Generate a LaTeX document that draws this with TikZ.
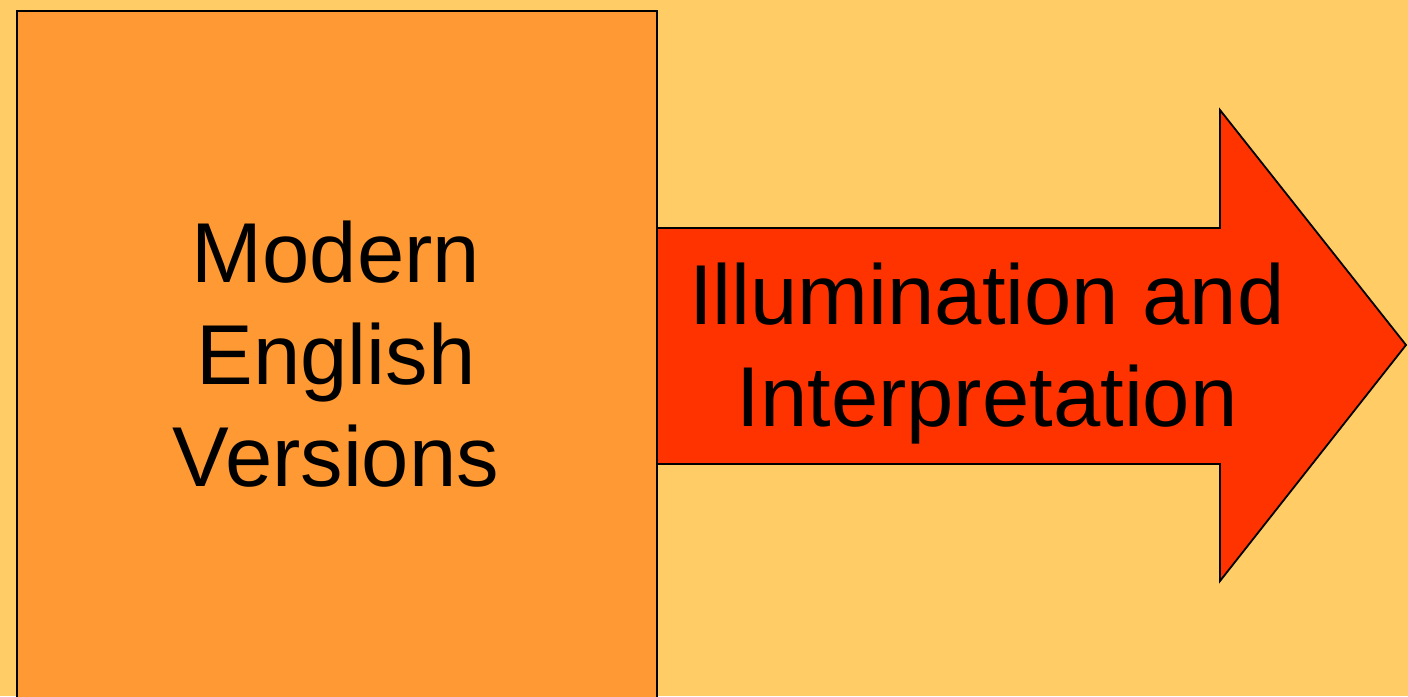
\documentclass[tikz,border=0pt]{standalone}
\usepackage{fontspec}
\setmainfont{Liberation Sans}
\definecolor{bg}{HTML}{FFCC66}
\definecolor{boxc}{HTML}{FF9933}
\definecolor{arrc}{HTML}{FF3300}
\begin{document}
\begin{tikzpicture}[x=1pt,y=-1pt,
  outline/.style={draw=black,line width=1.8pt,line join=miter},
  bigtext/.style={font=\fontsize{85}{102}\selectfont,align=center,inner sep=0pt}]
\useasboundingbox (0,0) rectangle (1408,696);
\clip (0,0) rectangle (1408,696);
\fill[bg] (0,0) rectangle (1408,696);
\draw[outline,fill=arrc] (656,228) -- (1220,228) -- (1220,110) -- (1406,345) -- (1220,581) -- (1220,464) -- (656,464) -- cycle;
\node[outline,fill=boxc,minimum width=640pt,minimum height=700pt,anchor=north west,inner sep=0pt] (box) at (16,10) {};
\node[bigtext] (boxtext) at (336,354) {Modern\\English\\Versions};
\node[bigtext] (arrtext) at (987,354) {Illumination and\\Interpretation};
\end{tikzpicture}
\end{document}
